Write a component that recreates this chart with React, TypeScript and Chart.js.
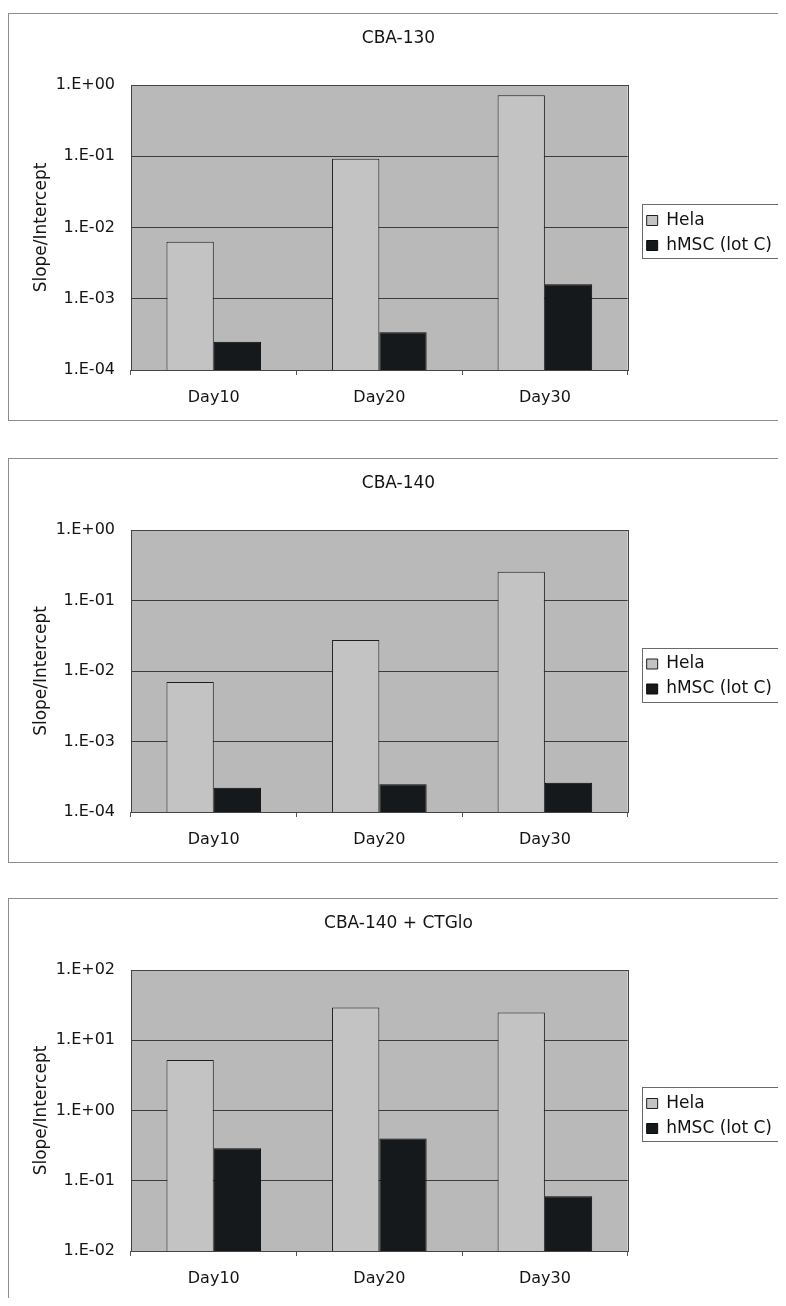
import React, { useEffect, useRef } from 'react';
import { Chart, registerables } from 'chart.js';

Chart.register(...registerables);

const categories = ['Day10', 'Day20', 'Day30'];
const seriesNames = ['Hela', 'hMSC (lot C)'];

const cba130Hela = [0.0063, 0.092, 0.72];
const cba130Hmsc = [0.00025, 0.00034, 0.0016];

const cba140Hela = [0.007, 0.0275, 0.255];
const cba140Hmsc = [0.00022, 0.000247, 0.00026];

const ctgloHela = [5.25, 29.3, 24.9];
const ctgloHmsc = [0.29, 0.4, 0.06];

const ticksLow = [1e-4, 1e-3, 1e-2, 1e-1, 1];
const ticksHigh = [1e-2, 1e-1, 1, 10, 100];

const chartTitles = ['CBA-130', 'CBA-140', 'CBA-140 + CTGlo'];
const yAxisTitle = 'Slope/Intercept';

const FONT = '"DejaVu Sans", sans-serif';
const TEXT = '#141414';
const PLOT_BG = '#b9b9b9';
const HELA_FILL = '#c3c3c3';
const HMSC_FILL = '#15191b';
const GRID = '#3c3c3c';

Chart.defaults.font.family = FONT;

function fmtExp(v: number): string {
  const e = Math.round(Math.log10(v));
  const sign = e < 0 ? '-' : '+';
  return '1.E' + sign + String(Math.abs(e)).padStart(2, '0');
}

const plotFrame = {
  id: 'plotFrame',
  beforeDraw(chart: any) {
    const { ctx, chartArea: a } = chart;
    ctx.save();
    ctx.fillStyle = PLOT_BG;
    ctx.fillRect(a.left, a.top, a.right - a.left, a.bottom - a.top);
    ctx.restore();
  },
  afterDatasetsDraw(chart: any) {
    const { ctx, chartArea: a } = chart;
    ctx.save();
    ctx.strokeStyle = '#444';
    ctx.lineWidth = 1;
    ctx.strokeRect(Math.round(a.left) + 0.5, Math.round(a.top) + 0.5, Math.round(a.right - a.left), Math.round(a.bottom - a.top));
    ctx.restore();
  },
  afterDraw(chart: any) {
    const lg = chart.legend;
    if (!lg || !lg.legendHitBoxes || !lg.legendHitBoxes.length) return;
    const hb = lg.legendHitBoxes;
    let l = Infinity, t = Infinity, b = -Infinity;
    hb.forEach((h: any) => {
      l = Math.min(l, h.left);
      t = Math.min(t, h.top);
      b = Math.max(b, h.top + h.height);
    });
    const ctx = chart.ctx;
    ctx.save();
    ctx.strokeStyle = '#6a6a6a';
    ctx.lineWidth = 1;
    const x0 = Math.round(l - 5) + 0.5;
    const y0 = Math.round(t - 8) + 0.5;
    const y1 = Math.round(b + 4) + 0.5;
    ctx.strokeRect(x0, y0, chart.width + 10 - x0, y1 - y0);
    ctx.restore();
  },
};

interface Props {
  title: string;
  hela: number[];
  hmsc: number[];
  tickValues: number[];
  height: number;
}

function LogBarChart({ title, hela, hmsc, tickValues, height }: Props) {
  const ref = useRef<HTMLCanvasElement | null>(null);
  useEffect(() => {
    if (!ref.current) return;
    const chart = new Chart(ref.current, {
      type: 'bar',
      data: {
        labels: categories,
        datasets: [
          {
            label: seriesNames[0],
            data: hela,
            backgroundColor: HELA_FILL,
            borderColor: '#1e1e1e',
            borderWidth: 1,
            barPercentage: 1,
            categoryPercentage: 0.5714,
          },
          {
            label: seriesNames[1],
            data: hmsc,
            backgroundColor: HMSC_FILL,
            borderColor: '#0a0a0a',
            borderWidth: 1,
            barPercentage: 1,
            categoryPercentage: 0.5714,
          },
        ],
      },
      options: {
        responsive: false,
        animation: false,
        devicePixelRatio: 1,
        layout: { padding: { top: 0, right: 4, bottom: 12, left: 6 } },
        plugins: {
          title: {
            display: true,
            text: title,
            color: TEXT,
            font: { family: FONT, size: 17, weight: 'normal' },
            padding: { top: 14.8, bottom: 35.8 },
          },
          legend: {
            position: 'right',
            align: 'center',
            maxWidth: 220,
            title: { display: true, text: '', font: { size: 10 }, padding: 16 },
            labels: {
              color: '#111',
              font: { family: FONT, size: 17 },
              boxWidth: 11,
              boxHeight: 10,
              padding: 8,
            },
          },
          tooltip: { enabled: false },
        },
        scales: {
          x: {
            grid: { display: true, drawOnChartArea: false, offset: true, tickLength: 5, color: '#555' },
            border: { display: false },
            ticks: { color: TEXT, font: { family: FONT, size: 16 }, padding: 13 },
            afterFit: (s: any) => {
              s.height = 38;
            },
          },
          y: {
            type: 'logarithmic',
            min: tickValues[0],
            max: tickValues[tickValues.length - 1],
            afterBuildTicks: (axis: any) => {
              axis.ticks = tickValues.map((v) => ({ value: v }));
            },
            grid: { color: GRID, drawTicks: false, lineWidth: 1 },
            border: { display: false },
            ticks: {
              color: TEXT,
              font: { family: FONT, size: 16 },
              padding: 16,
              callback: (v: any) => fmtExp(Number(v)),
            },
            title: {
              display: true,
              text: yAxisTitle,
              color: TEXT,
              font: { family: FONT, size: 17 },
              padding: { top: 16.5, bottom: 4 },
            },
            afterFit: (s: any) => {
              s.width = 116;
            },
          },
          gap: {
            type: 'linear',
            position: 'right',
            display: true,
            grid: { display: false },
            border: { display: false },
            ticks: { display: false },
            afterFit: (s: any) => {
              s.width = 11;
            },
          },
        },
      } as any,
      plugins: [plotFrame],
    });
    return () => chart.destroy();
  }, [title, hela, hmsc, tickValues, height]);
  return <canvas ref={ref} width={777} height={height - 2} style={{ display: 'block', width: 777, height: height - 2 }} />;
}

const boxTops = [5, 450, 890];
const boxHeights = [408, 405, 404];

export default function App() {
  const configs = [
    { hela: cba130Hela, hmsc: cba130Hmsc, ticks: ticksLow },
    { hela: cba140Hela, hmsc: cba140Hmsc, ticks: ticksLow },
    { hela: ctgloHela, hmsc: ctgloHmsc, ticks: ticksHigh },
  ];
  return (
    <div style={{ position: 'relative', width: 778, height: 1290, overflow: 'hidden', background: '#fff' }}>
      {configs.map((c, i) => (
        <div
          key={i}
          style={{
            position: 'absolute',
            left: 0,
            top: boxTops[i],
            width: 800,
            height: boxHeights[i],
            border: '1px solid #8c8c8c',
            boxSizing: 'border-box',
            background: '#fff',
          }}
        >
          <LogBarChart title={chartTitles[i]} hela={c.hela} hmsc={c.hmsc} tickValues={c.ticks} height={boxHeights[i]} />
        </div>
      ))}
    </div>
  );
}
